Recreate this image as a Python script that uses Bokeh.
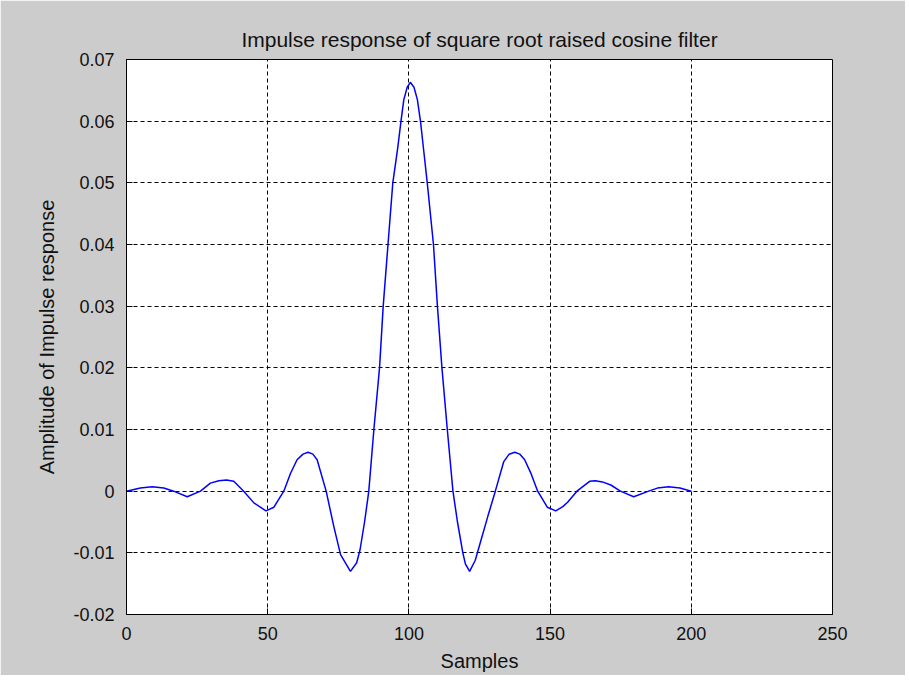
from bokeh.plotting import figure
from bokeh.models import FixedTicker, Range1d, Title
from bokeh.embed import file_html
from bokeh.resources import INLINE

# Samples (x) and amplitude (y)
samples = [0, 4.9, 9.1, 13.2, 16.7, 21.5, 26.2, 29.7, 32.7, 35.4, 38.0, 41.5,
           45.1, 49.4, 52.2, 55.7, 58.1, 60.4, 62.5, 64.3, 66.0, 67.5, 70.7,
           73.4, 75.8, 79.3, 81.5, 82.7, 84.3, 85.8, 87.6, 89.6, 90.9, 92.6,
           94.3, 96.0, 97.2, 98.2, 99.4, 100.5, 101.8, 103.0, 104.1, 105.3,
           106.5, 108.7, 110.1, 111.7, 113.6, 115.6, 117.2, 119.1, 120.0, 121.5,
           123.5, 125.5, 128.0, 130.6, 133.6, 135.5, 137.5, 139.3, 141.0, 143.3,
           145.6, 149.0, 152.0, 154.5, 156.2, 159.5, 164.0, 166.0, 168.5, 171.5,
           174.9, 179.6, 184.9, 188.0, 192.0, 196.0, 200.0]
amplitude = [0, 0.0005, 0.0007, 0.0005, 0, -0.0009, 0, 0.0013, 0.0017, 0.0018,
             0.0016, 0, -0.0019, -0.0032, -0.0026, 0, 0.0029, 0.0051, 0.0060,
             0.0063, 0.0060, 0.0051, 0, -0.0057, -0.0103, -0.0130, -0.0116,
             -0.0095, -0.0050, 0, 0.010, 0.020, 0.030, 0.040, 0.050, 0.0555,
             0.060, 0.0635, 0.0655, 0.0663, 0.0655, 0.0635, 0.060, 0.055, 0.050,
             0.040, 0.030, 0.020, 0.010, 0, -0.0050, -0.0100, -0.0118, -0.0130,
             -0.0112, -0.0080, -0.0040, 0, 0.0048, 0.0060, 0.0063, 0.0060,
             0.0051, 0.0028, 0, -0.0026, -0.0032, -0.0025, -0.0018, 0, 0.0016,
             0.0017, 0.0015, 0.0010, 0, -0.0009, 0, 0.0005, 0.0007, 0.0005, 0]

x_ticks = [0, 50, 100, 150, 200, 250]
x_tick_labels = ["0", "50", "100", "150", "200", "250"]
y_ticks = [-0.02, -0.01, 0.0, 0.01, 0.02, 0.03, 0.04, 0.05, 0.06, 0.07]
y_tick_labels = ["-0.02", "-0.01", "0", "0.01", "0.02", "0.03", "0.04", "0.05", "0.06", "0.07"]

FONT = "Liberation Sans"

p = figure(width=905, height=675, output_backend="svg", toolbar_location=None,
           x_range=Range1d(0, 250), y_range=Range1d(-0.02, 0.07),
           min_border_left=126, min_border_right=73, min_border_top=59, min_border_bottom=61,
           x_axis_label="Samples", y_axis_label="Amplitude of Impulse response")
p.title = Title(text="Impulse response of square root raised cosine filter",
                align="center", text_font=FONT, text_font_size="21px",
                text_font_style="normal", text_color="#111111", offset=0, standoff=18)
p.border_fill_color = "#cccccc"
p.background_fill_color = "white"
p.outline_line_color = "black"
p.outline_line_width = 1

p.line(samples, amplitude, line_color="#0000ff", line_width=1.5)

for ax, ticks, labels in ((p.xaxis[0], x_ticks, x_tick_labels), (p.yaxis[0], y_ticks, y_tick_labels)):
    ax.ticker = FixedTicker(ticks=ticks)
    ax.major_label_overrides = {t: l for t, l in zip(ticks, labels)}
    ax.minor_tick_line_color = None
    ax.major_tick_in = 6
    ax.major_tick_out = 0
    ax.axis_line_color = "black"
    ax.major_tick_line_color = "black"
    ax.major_label_text_font = FONT
    ax.major_label_text_font_size = "18px"
    ax.major_label_text_color = "#111111"
    ax.axis_label_text_font = FONT
    ax.axis_label_text_font_size = "20px"
    ax.axis_label_text_font_style = "normal"
    ax.axis_label_text_color = "#111111"

p.xaxis.major_label_standoff = 12
p.xaxis.axis_label_standoff = 7
p.yaxis.major_label_standoff = 12
p.yaxis.axis_label_standoff = 12

p.xgrid.ticker = FixedTicker(ticks=x_ticks)
p.ygrid.ticker = FixedTicker(ticks=y_ticks)
for g in (p.xgrid, p.ygrid):
    g.grid_line_color = "black"
    g.grid_line_dash = "4 3"
    g.grid_line_width = 1

with open("out.html", "w") as f:
    f.write(file_html(p, INLINE))
